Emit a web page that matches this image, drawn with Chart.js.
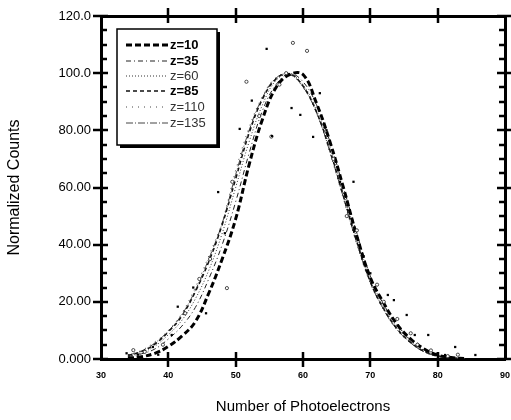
<!DOCTYPE html>
<html><head><meta charset="utf-8">
<script src="https://cdn.jsdelivr.net/npm/chart.js@4/dist/chart.umd.min.js"></script>
<style>html,body{margin:0;padding:0;background:#fff}#wrap{width:511px;height:420px;position:relative}</style>
</head><body><div id="wrap"><canvas id="c" width="511" height="420"></canvas></div>
<script>
// ---- data ----
const xValues = [34,36,38,40,42,44,46,48,50,52,54,56,58,60,62,64,66,68,70,72,74,76,78,80,82,84];
const z10  = [0.3,0.8,2,4.4,8,13,23,35,49,68,84,95,99.5,99.5,89.5,76,60,43,28.5,19.5,12,7,3.5,1.4,0.5,0.2];
const z35  = [0.8,1.8,3.5,7,11.5,18,28,40,55,72,87,96,99.8,97,89,76,60,44,29,19,12,6.5,3,1.2,0.5,0.2];
const z60  = [1,2.2,4.5,8.5,13.5,21,31,44,60,76,89,97.5,99.5,96,87,74,58,42,27.5,18,11,6,2.8,1.1,0.4,0.1];
const z85  = [1.2,2.6,5.2,9.5,15,23.5,34,47,63,79,91,98,99.8,95.5,86.5,73,57,41,27,17.5,10.5,5.8,2.6,1,0.4,0.1];
const z110 = [1.5,3,6,10,16,25,36,48,66,81,92,98.5,99.5,95,86,72,56,40,26.5,17,10,5.5,2.5,1,0.4,0.1];
const z135 = [1.3,2.8,5.6,9.8,15.5,24,35,47.5,64.5,80,91.5,98.3,99.6,95.2,86.2,72.5,56.5,40.5,26.8,17.2,10.2,5.6,2.5,1,0.4,0.1];
const seriesNames = ['z=10','z=35','z=60','z=85','z=110','z=135'];
// measured points (filled squares)
const squaresX = [33.8,35.5,37.7,38.5,40.5,41.4,43.7,45.6,47.4,48.4,50.6,52.4,54.6,55.4,58.3,59.6,61.5,62.5,63.5,65.5,67.5,69,70,72.6,73.5,75.4,76.6,78.6,80,81.1,82.6,85.6];
const squaresY = [2,1.5,4.2,1.5,8.4,18.3,25,16,58.4,44,80.5,90.4,108.5,78,87.8,85.4,77.7,93,80,62,62,36,30,22.4,20.6,15.4,8.4,8.4,2,1.4,4.2,1.4];
// measured points (open circles)
const circlesX = [34.8,36.5,39.2,42.5,44.6,46.2,48.7,49.5,51.6,53.5,55.3,56.5,57.5,58.5,60.6,64.5,66.5,68,71,72,74,76,77,79,81.5,83];
const circlesY = [3.1,2.5,5,16,28,35,24.8,62,97,85,77.8,96,100,110.6,107.8,70,50,45,26,20,14,9,5,3,1,1.5];
const yTickLabels = ['0.000','20.00','40.00','60.00','80.00','100.0','120.0'];
const xTickLabels = ['30','40','50','60','70','80','90'];

const FONT = "'Liberation Sans', Arial, sans-serif";
const styles = [
  {c:'#000', w:3,   d:[6,3]},
  {c:'#222', w:1,   d:[5,3,1,3]},
  {c:'#333', w:1,   d:[1,2]},
  {c:'#111', w:1.5, d:[4,3]},
  {c:'#444', w:1,   d:[1,5]},
  {c:'#444', w:1,   d:[7,2,1,2]}
];
const seriesValues = [z10,z35,z60,z85,z110,z135];
const lineSets = seriesValues.map((vals,i)=>({
  label: seriesNames[i],
  data: xValues.map((x,k)=>({x:x,y:vals[k]})),
  showLine:true, tension:0.4, pointRadius:0,
  borderColor:styles[i].c, borderWidth:styles[i].w, borderDash:styles[i].d,
  fill:false, order: i===0?0:1
}));
const pointSets = [
  {label:'sq', data:squaresX.map((x,k)=>({x:x,y:squaresY[k]})), showLine:false,
   pointStyle:'rect', pointRadius:1.6, backgroundColor:'#000', borderColor:'#000', borderWidth:0},
  {label:'ci', data:circlesX.map((x,k)=>({x:x,y:circlesY[k]})), showLine:false,
   pointStyle:'circle', pointRadius:1.6, backgroundColor:'#fff', borderColor:'#222', borderWidth:0.8}
];

const framePlugin = {
  id:'frame',
  afterDraw(chart){
    const ctx = chart.ctx;
    const {left,right,top,bottom} = chart.chartArea;
    const xs = chart.scales.x, ys = chart.scales.y;
    ctx.save();
    ctx.strokeStyle = '#000';
    ctx.lineWidth = 2.5;
    ctx.lineCap = 'butt';
    for (let v = 0; v <= 120; v += 5) {
      const py = Math.round(ys.getPixelForValue(v));
      const major = v % 20 === 0;
      ctx.beginPath();
      if (major) { ctx.moveTo(left-8,py); ctx.lineTo(left+7,py); ctx.moveTo(right-8,py); ctx.lineTo(right+6,py); }
      else { ctx.moveTo(left,py); ctx.lineTo(left+6,py); ctx.moveTo(right-6,py); ctx.lineTo(right,py); }
      ctx.stroke();
    }
    for (let v = 40; v <= 80; v += 10) {
      const px = Math.round(xs.getPixelForValue(v));
      ctx.beginPath();
      ctx.moveTo(px,bottom-7); ctx.lineTo(px,bottom+8);
      ctx.moveTo(px,top-8); ctx.lineTo(px,top+7);
      ctx.stroke();
    }
    // legend
    const bx=117, by=29, bw=100, bh=116;
    ctx.fillStyle='#000';
    ctx.fillRect(bx+3,by+3,bw,bh);
    ctx.fillStyle='#fff';
    ctx.fillRect(bx,by,bw,bh);
    ctx.lineWidth=1.5; ctx.strokeStyle='#000';
    ctx.strokeRect(bx,by,bw,bh);
    const rows=[45,61,76,91,107,123];
    seriesNames.forEach((name,i)=>{
      const st = styles[i];
      ctx.save();
      ctx.strokeStyle=st.c; ctx.lineWidth=st.w; ctx.setLineDash(st.d);
      ctx.beginPath(); ctx.moveTo(126,rows[i]); ctx.lineTo(168,rows[i]); ctx.stroke();
      ctx.restore();
      const bold = (i===0||i===1||i===3);
      ctx.fillStyle = bold ? '#000' : '#333';
      ctx.font = (bold?'bold ':'') + '13px ' + FONT;
      ctx.textBaseline='middle'; ctx.textAlign='left';
      ctx.fillText(name,170,rows[i]+0.5);
    });
    ctx.restore();
  }
};

new Chart(document.getElementById('c'), {
  type:'scatter',
  data:{datasets:[...pointSets, ...lineSets]},
  options:{
    responsive:false, animation:false, devicePixelRatio:1,
    layout:{padding:{left:0,right:6,top:16,bottom:0}},
    plugins:{legend:{display:false}, tooltip:{enabled:false}},
    scales:{
      x:{type:'linear', position:'bottom', min:30, max:90,
         ticks:{stepSize:10, color:'#000', padding:3, maxRotation:0,
                font:{family:FONT,size:9,weight:'bold'},
                callback:(v)=>xTickLabels[Math.round((v-30)/10)]},
         grid:{display:false}, border:{display:true,width:3,color:'#000'},
         title:{display:true,text:'Number of Photoelectrons',color:'#000',
                font:{family:FONT,size:15},padding:{top:0,bottom:4}},
         afterFit(s){s.height=61; s.paddingLeft=0; s.paddingRight=0;}},
      y:{type:'linear', position:'left', min:0, max:120,
         ticks:{stepSize:20, color:'#000', padding:2,
                font:{family:FONT,size:13},
                callback:(v)=>yTickLabels[Math.round(v/20)]},
         grid:{display:false}, border:{display:true,width:3,color:'#000'},
         title:{display:true,text:'Normalized Counts',color:'#000',
                font:{family:FONT,size:16},padding:{top:5,bottom:0}},
         afterFit(s){s.width=101; s.paddingTop=0; s.paddingBottom=0;}},
      x2:{type:'linear', position:'top', min:30, max:90,
          ticks:{display:false}, grid:{display:false},
          border:{display:true,width:3,color:'#000'}, afterFit(s){s.height=0; s.paddingLeft=0; s.paddingRight=0;}},
      y2:{type:'linear', position:'right', min:0, max:120,
          ticks:{display:false}, grid:{display:false},
          border:{display:true,width:3,color:'#000'}, afterFit(s){s.width=0; s.paddingTop=0; s.paddingBottom=0;}}
    }
  },
  plugins:[framePlugin]
});
</script></body></html>
